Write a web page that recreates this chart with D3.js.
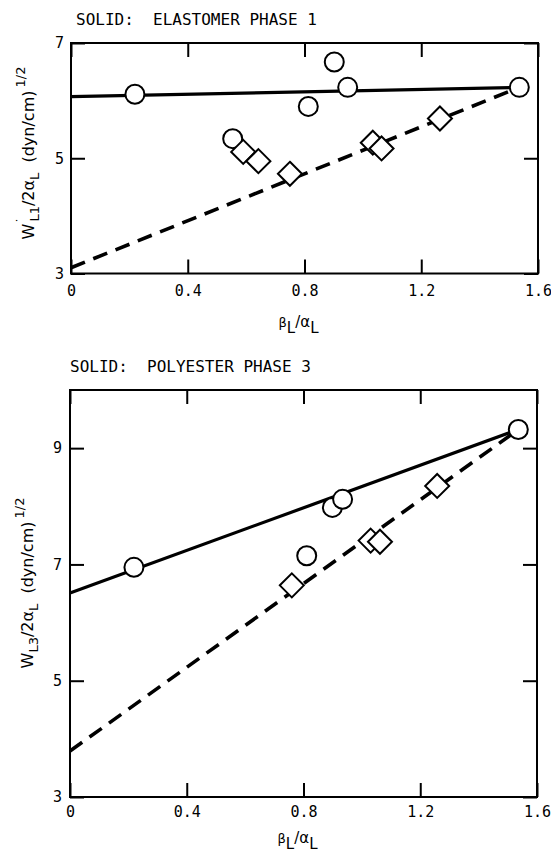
<!DOCTYPE html>
<html>
<head>
<meta charset="utf-8">
<script src="https://cdn.jsdelivr.net/npm/d3@7"></script>
<style>
  body { margin: 0; background: #fff; }
  .tick text { font-family: 'DejaVu Sans Mono', monospace; font-size: 15px; fill: #000; }
  .title { font-family: 'DejaVu Sans Mono', monospace; font-size: 16px; }
  .label { font-family: 'DejaVu Sans', sans-serif; font-size: 16px; }
</style>
</head>
<body>
<script>
// tick values and labels
const xTicks = [0, 0.4, 0.8, 1.2, 1.6];
const xTickLabels = ['0', '0.4', '0.8', '1.2', '1.6'];
const elastomerYTicks = [3, 5, 7];
const polyesterYTicks = [3, 5, 7, 9];

// panel 1: elastomer phase 1, [beta/alpha, value]
const elastomerCircles = [[0.219, 6.11], [0.554, 5.34], [0.813, 5.90], [0.902, 6.67], [0.948, 6.23], [1.536, 6.23]];
const elastomerDiamonds = [[0.590, 5.11], [0.642, 4.95], [0.750, 4.73], [1.034, 5.27], [1.064, 5.17], [1.264, 5.69]];
const elastomerSolid = [[0, 6.07], [1.536, 6.23]];
const elastomerDashed = [[0, 3.10], [1.536, 6.23]];

// panel 2: polyester phase 3
const polyesterCircles = [[0.219, 6.95], [0.811, 7.15], [0.899, 7.98], [0.934, 8.12], [1.536, 9.32]];
const polyesterDiamonds = [[0.760, 6.64], [1.030, 7.41], [1.062, 7.39], [1.258, 8.35]];
const polyesterSolid = [[0, 6.51], [1.536, 9.32]];
const polyesterDashed = [[0, 3.79], [1.536, 9.32]];

const svg = d3.select('body').append('svg')
    .attr('width', 551)
    .attr('height', 853);

function drawPanel(p) {
    let x = d3.scaleLinear().domain([0, 1.6]).range([p.left, p.right]);
    let y = d3.scaleLinear().domain(p.yDomain).range([p.bottom, p.top]);
    let g = svg.append('g');

    // tick marks pointing inward on all four sides
    g.append('g')
        .attr('transform', `translate(0,${p.bottom})`)
        .call(d3.axisBottom(x).tickValues(xTicks).tickSizeInner(-14).tickSizeOuter(0)
            .tickPadding(p.xPad).tickFormat((d, i) => xTickLabels[i]));
    g.append('g')
        .attr('transform', `translate(0,${p.top})`)
        .call(d3.axisTop(x).tickValues(xTicks).tickSizeInner(-14).tickSizeOuter(0).tickFormat(''));
    g.append('g')
        .attr('transform', `translate(${p.left},0)`)
        .call(d3.axisLeft(y).tickValues(p.yTicks).tickSizeInner(-14).tickSizeOuter(0)
            .tickPadding(p.yPad).tickFormat(d3.format('d')));
    g.append('g')
        .attr('transform', `translate(${p.right},0)`)
        .call(d3.axisRight(y).tickValues(p.yTicks).tickSizeInner(-14).tickSizeOuter(0).tickFormat(''));

    g.selectAll('.domain').remove();
    g.selectAll('.tick line').attr('stroke', '#000').attr('stroke-width', 2);

    // frame
    g.append('rect')
        .attr('x', x(0))
        .attr('y', y(p.yDomain[1]))
        .attr('width', x(1.6) - x(0))
        .attr('height', y(p.yDomain[0]) - y(p.yDomain[1]))
        .attr('fill', 'none')
        .attr('stroke', '#000')
        .attr('stroke-width', 2);

    let line = d3.line().x(d => x(d[0])).y(d => y(d[1]));

    g.append('path')
        .attr('d', line(p.solid))
        .attr('fill', 'none')
        .attr('stroke', '#000')
        .attr('stroke-width', 3.2);

    g.append('path')
        .attr('d', line(p.dashed))
        .attr('fill', 'none')
        .attr('stroke', '#000')
        .attr('stroke-width', 3.6)
        .attr('stroke-dasharray', '15,9');

    g.selectAll('circle.pt')
        .data(p.circles)
        .join('circle')
        .classed('pt', true)
        .attr('cx', d => x(d[0]))
        .attr('cy', d => y(d[1]))
        .attr('r', 9.5)
        .attr('fill', '#fff')
        .attr('stroke', '#000')
        .attr('stroke-width', 2);

    g.selectAll('path.dia')
        .data(p.diamonds)
        .join('path')
        .classed('dia', true)
        .attr('d', 'M0,-12L12,0L0,12L-12,0Z')
        .attr('transform', d => `translate(${x(d[0])},${y(d[1])})`)
        .attr('fill', '#fff')
        .attr('stroke', '#000')
        .attr('stroke-width', 2);

    // title
    g.append('text')
        .classed('title', true)
        .attr('x', p.titleX)
        .attr('y', p.titleY)
        .attr('xml:space', 'preserve')
        .text(p.title);

    // x label: beta_L / alpha_L
    let xl = g.append('text')
        .classed('label', true)
        .attr('x', (p.left + p.right) / 2 - 6)
        .attr('y', p.bottom + p.xLabelGap)
        .attr('text-anchor', 'middle')
        .style('font-size', '15px');
    xl.append('tspan').style('font-size', '13px').text('β');
    xl.append('tspan').attr('dy', 6).text('L');
    xl.append('tspan').attr('dy', -6).text('/α');
    xl.append('tspan').attr('dy', 6).text('L');

    // y label
    let yl = g.append('text')
        .classed('label', true)
        .attr('transform', `translate(${p.yLabelX},${p.yLabelY})rotate(-90)`)
        .attr('text-anchor', 'middle');
    yl.append('tspan').text('W');
    if (p.prime) {
        yl.append('tspan').attr('dy', -9).style('font-size', '12px').text('\u02d9');
        yl.append('tspan').attr('dx', -4).attr('dy', 14).style('font-size', '13px').text(p.sub);
    } else {
        yl.append('tspan').attr('dy', 5).style('font-size', '13px').text(p.sub);
    }
    yl.append('tspan').attr('dy', -5).text('/2α');
    yl.append('tspan').attr('dy', 5).style('font-size', '13px').text('L');
    yl.append('tspan').attr('dy', -5).text('\u00a0\u00a0(dyn/cm)');
    yl.append('tspan').attr('dx', 3).attr('dy', -9).style('font-size', '13px').text('1/2');
}

drawPanel({
    left: 71, right: 538, top: 43, bottom: 273.5,
    yDomain: [3, 7], yTicks: elastomerYTicks,
    xPad: 12, yPad: 7, xLabelGap: 53, yLabelX: 34, yLabelY: 153,
    circles: elastomerCircles, diamonds: elastomerDiamonds,
    solid: elastomerSolid, dashed: elastomerDashed,
    title: 'SOLID:  ELASTOMER PHASE 1', titleX: 76, titleY: 25,
    prime: true, sub: 'L1'
});

drawPanel({
    left: 70, right: 537, top: 390, bottom: 797,
    yDomain: [3, 10], yTicks: polyesterYTicks,
    xPad: 9, yPad: 8, xLabelGap: 46, yLabelX: 33, yLabelY: 583,
    circles: polyesterCircles, diamonds: polyesterDiamonds,
    solid: polyesterSolid, dashed: polyesterDashed,
    title: 'SOLID:  POLYESTER PHASE 3', titleX: 70, titleY: 372,
    prime: false, sub: 'L3'
});
</script>
</body>
</html>
